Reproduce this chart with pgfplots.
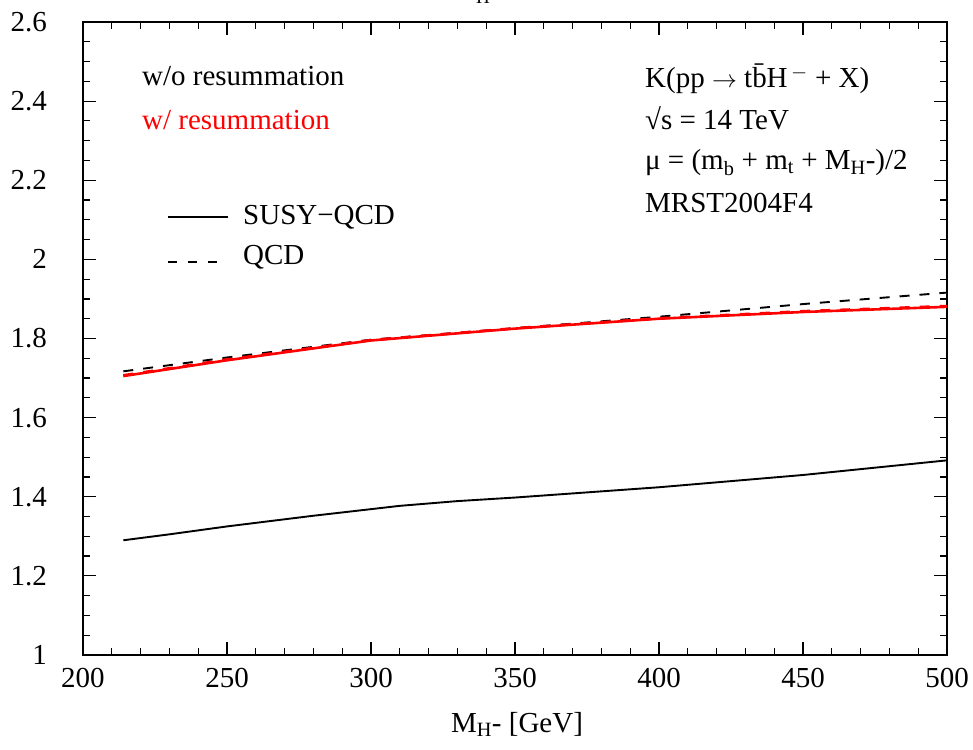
\documentclass[border=0pt]{standalone}
\usepackage{pgfplots}
\pgfplotsset{compat=1.18}
\usepackage{fontspec}
\setmainfont{Liberation Serif}

\begin{document}
\fontsize{29}{34}\selectfont
\begin{tikzpicture}[font=\fontsize{29}{34}\selectfont]
\useasboundingbox (-83pt,-94pt) rectangle (890pt,655pt);
\begin{axis}[
  at={(0pt,0pt)}, anchor=south west,
  scale only axis, width=864pt, height=633pt,
  xmin=200, xmax=500, ymin=1, ymax=2.6,
  xtick={200,250,300,350,400,450,500},
  ytick={1,1.2,1.4,1.6,1.8,2,2.2,2.4,2.6},
  minor x tick num=4, minor y tick num=3,
  tick align=inside,
  major tick length=13pt, minor tick length=7pt,
  every tick/.style={black, line width=1.2pt},
  axis line style={line width=1.6pt},
  /pgf/number format/assume math mode=true,
  ticklabel style={font=\fontsize{29}{34}\selectfont, inner sep=0pt},
  xticklabel style={anchor=north, yshift=-13pt},
  yticklabel style={anchor=east, xshift=-36pt},
  clip=true,
]
% QCD, without resummation
\addplot[black, line width=1.9pt, dash pattern=on 10pt off 10pt] coordinates {
  (214,1.717) (250,1.752) (300,1.797) (350,1.826) (400,1.855) (450,1.887) (500,1.916)};
% QCD, with resummation
\addplot[red, line width=2.6pt, dash pattern=on 10pt off 10pt] coordinates {
  (214,1.707) (250,1.747) (300,1.796) (350,1.826) (400,1.851) (450,1.869) (500,1.882)};
% SUSY-QCD, with resummation
\addplot[red, line width=2.6pt] coordinates {
  (214,1.705) (250,1.745) (300,1.795) (350,1.825) (400,1.850) (450,1.867) (500,1.880)};
% SUSY-QCD, without resummation
\addplot[black, line width=1.9pt] coordinates {
  (214,1.290) (230,1.305) (250,1.325) (280,1.352) (310,1.377) (330,1.389)
  (350,1.398) (400,1.424) (450,1.455) (500,1.492)};
\end{axis}

% labels
\node[anchor=base west, inner sep=0pt] at (59pt,569pt) {w/o resummation};
\node[anchor=base west, inner sep=0pt, text=red] at (59pt,525pt) {w/ resummation};

\draw[black, line width=1.9pt] (85pt,438pt) -- (145pt,438pt);
\node[anchor=base west, inner sep=0pt] at (160pt,430pt) {SUSY−QCD};
\draw[black, line width=1.9pt, dash pattern=on 9pt off 11pt] (85pt,393pt) -- (145pt,393pt);
\node[anchor=base west, inner sep=0pt] at (160pt,390pt) {QCD};

\node[anchor=base west, inner sep=0pt] at (562pt,567pt)
  {K(pp $\rightarrow$ t\={b}H$^{\,-}$ + X)};
\node[anchor=base west, inner sep=0pt] at (562pt,525pt) {√s = 14 TeV};
\node[anchor=base west, inner sep=0pt] at (562pt,485pt)
  {μ = (m\textsubscript{b} + m\textsubscript{t} + M\textsubscript{H}-)/2};
\node[anchor=base west, inner sep=0pt] at (562pt,442pt) {MRST2004F4};

\node[anchor=base, inner sep=0pt] at (434pt,-77pt) {M\textsubscript{H}- [GeV]};
\node[anchor=base, inner sep=0pt, font=\fontsize{19}{22}\selectfont] at (400pt,651pt) {H};
\end{tikzpicture}
\end{document}
